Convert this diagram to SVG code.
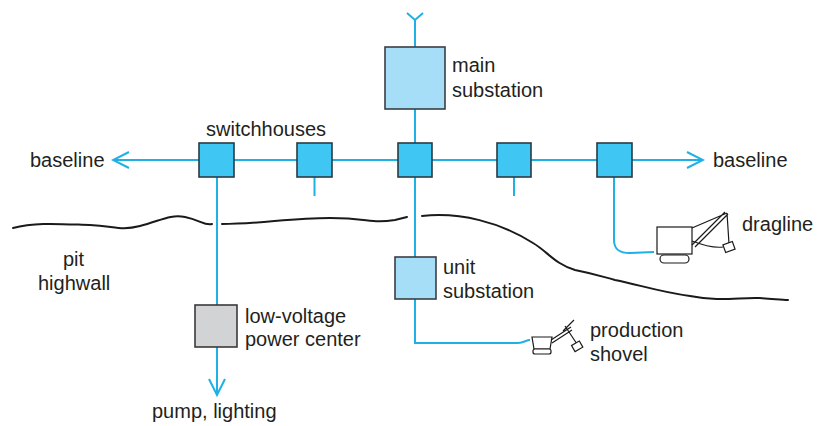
<svg xmlns="http://www.w3.org/2000/svg" width="827" height="426" viewBox="0 0 827 426">
  <defs>
    <style>
      .wire { fill: none; stroke: #1fb0e6; stroke-width: 2; }
      .ground { fill: none; stroke: #1a1a1a; stroke-width: 2; stroke-linecap: round; }
      .sw { fill: #40c6f2; stroke: #2a3a44; stroke-width: 1.6; }
      .sub { fill: #a6def7; stroke: #3a3f44; stroke-width: 1.6; }
      .lv { fill: #d2d3d5; stroke: #3a3a3a; stroke-width: 1.6; }
      .mach { fill: #fff; stroke: #1a1a1a; stroke-width: 1.2; }
      .mline { fill: none; stroke: #1a1a1a; stroke-width: 1.2; }
      text { font-family: "Liberation Sans", Arial, sans-serif; font-size: 20px; fill: #231f20; }
    </style>
    <marker id="openArrow" viewBox="0 0 20 20" refX="18" refY="10" markerWidth="20" markerHeight="20" markerUnits="userSpaceOnUse" orient="auto">
      <path d="M2,2 L18,10 L2,18" fill="none" stroke="#1fb0e6" stroke-width="2"/>
    </marker>
  </defs>

  <!-- ground surface / highwall profile -->
  <g id="ground">
    <path class="ground" d="M13,228 C35,222 60,224 90,225 C115,226 120,231 140,226 C160,221 170,214 185,217 C200,220 205,226 212,224"/>
    <path class="ground" d="M222,224 C260,224 290,218 330,218 C370,218 370,224 395,220 L407,217"/>
    <path class="ground" d="M422,216 C460,212 500,222 533,243 C548,252 555,264 575,270 C595,274 600,276 615,280 C640,285 660,292 690,296 C720,302 740,297 760,298 C775,299 782,300 788,300"/>
  </g>

  <!-- power distribution wiring -->
  <g id="connectors">
    <!-- incoming supply -->
    <path class="wire" d="M415,20 L415,47 M407,13 L415,20 L423,13"/>
    <path class="wire" d="M415,109 L415,143"/>
    <!-- baseline -->
    <path class="wire" d="M199,160 L113,160" marker-end="url(#openArrow)"/>
    <path class="wire" d="M632,160 L703,160" marker-end="url(#openArrow)"/>
    <path class="wire" d="M234,160 L297,160 M332,160 L398,160 M432,160 L497,160 M531,160 L597,160"/>
    <!-- stubs -->
    <path class="wire" d="M314.5,177 L314.5,196 M514,177 L514,196"/>
    <!-- to low-voltage power center and pump -->
    <path class="wire" d="M217,177 L217,305"/>
    <path class="wire" d="M217,347 L217,395" marker-end="url(#openArrow)"/>
    <!-- to unit substation and shovel -->
    <path class="wire" d="M415,177 L415,257"/>
    <path class="wire" d="M415,299 L415,343 L518,343 C524,343 526,340 530,340"/>
    <!-- to dragline -->
    <path class="wire" d="M614,177 L614,240 C614,250 620,253 630,253 L654,252"/>
  </g>

  <g id="main-substation">
    <rect class="sub" x="385" y="47" width="60" height="62"/>
    <text x="452" y="72">main</text>
    <text x="452" y="97">substation</text>
  </g>

  <g id="switchhouses">
    <text x="206" y="136">switchhouses</text>
  </g>
  <g id="switchhouse-1"><rect class="sw" x="199" y="143" width="35" height="34"/></g>
  <g id="switchhouse-2"><rect class="sw" x="297" y="143" width="35" height="34"/></g>
  <g id="switchhouse-3"><rect class="sw" x="398" y="143" width="34" height="34"/></g>
  <g id="switchhouse-4"><rect class="sw" x="497" y="143" width="34" height="34"/></g>
  <g id="switchhouse-5"><rect class="sw" x="597" y="143" width="35" height="34"/></g>

  <g id="baseline-left"><text x="30" y="167">baseline</text></g>
  <g id="baseline-right"><text x="713" y="167">baseline</text></g>

  <g id="pit-highwall">
    <text x="63" y="266">pit</text>
    <text x="38" y="290">highwall</text>
  </g>

  <g id="unit-substation">
    <rect class="sub" x="395" y="257" width="41" height="42"/>
    <text x="443" y="274">unit</text>
    <text x="443" y="298">substation</text>
  </g>

  <g id="low-voltage-power-center">
    <rect class="lv" x="195" y="305" width="42" height="42"/>
    <text x="245" y="323">low-voltage</text>
    <text x="245" y="346">power center</text>
  </g>

  <g id="pump-lighting"><text x="152" y="418">pump, lighting</text></g>

  <g id="dragline">
    <rect class="mach" x="657" y="227" width="35" height="27"/>
    <rect class="mach" x="660" y="255" width="29" height="8" rx="4"/>
    <path class="mline" d="M692,245 L725,212 M695,247 L728,214 M692,228 L727,213 M727,213 L729,244 M692,241 C705,246 715,248 723,247"/>
    <rect class="mach" x="724" y="243" width="10" height="8" transform="rotate(-20 729 247)"/>
    <text x="742" y="231">dragline</text>
  </g>

  <g id="production-shovel">
    <path class="mach" d="M532,337 L552,337 L550,349 L534,349 Z"/>
    <rect class="mach" x="533" y="349" width="18" height="5" rx="2"/>
    <path class="mline" d="M551,340 L571,327 M552,343 L572,330 M563,331 L574,320 M565,326 L577,344"/>
    <rect class="mach" x="573" y="343" width="9" height="7" transform="rotate(-30 577 347)"/>
    <text x="590" y="337">production</text>
    <text x="590" y="361">shovel</text>
  </g>
</svg>
